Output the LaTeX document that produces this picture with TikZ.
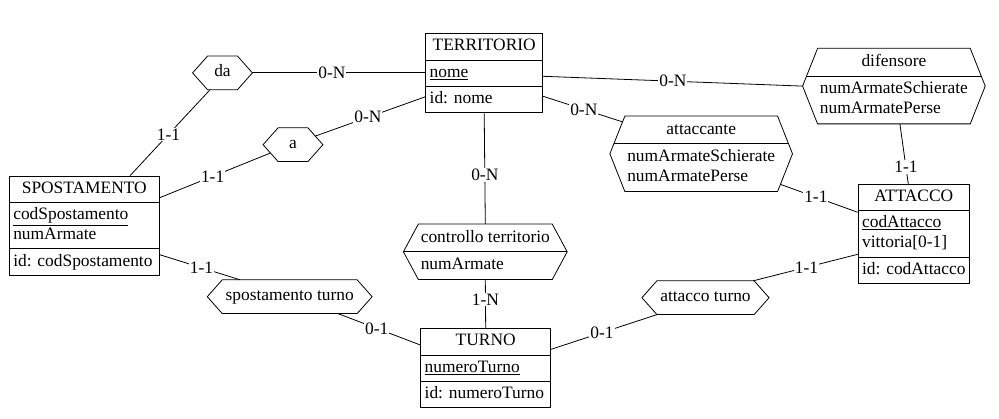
\documentclass[tikz,border=0pt]{standalone}
\usepackage{fontspec}
\setmainfont{Liberation Serif}
\usetikzlibrary{shapes.multipart}
\tikzset{
    x=1pt, y=-1pt, % One unit is one pixel of the picture, y runs downwards
    every node/.style={font=\fontsize{17.4}{20}\selectfont},
    entity/.style={ % Sets the properties for each entity
        draw,
        rectangle split, rectangle split parts=3,
        rectangle split part align={center,left,left},
        inner xsep=4pt, inner ysep=2.8pt,
        anchor=north
    },
    relation/.style={ % Relation without attributes, hexagon drawn later
        inner xsep=18pt, inner ysep=0pt,
        minimum height=33pt, minimum width=59pt
    },
    attrrelation/.style={ % Relation with attributes
        rectangle split, rectangle split parts=2,
        rectangle split part align={center,left},
        inner xsep=17pt, inner ysep=3.3pt,
        anchor=north
    },
    card/.style={ % Cardinality on the lines
        fill=white, inner sep=1pt
    }
}
\newcommand{\attrlist}[1]{\begin{tabular}{@{}l@{}}#1\end{tabular}}
\newcommand{\hexpath}[1]{(#1.west) -- ([xshift=15pt]#1.north west) -- ([xshift=-15pt]#1.north east) -- (#1.east) -- ([xshift=-15pt]#1.south east) -- ([xshift=15pt]#1.south west) -- cycle}

\begin{document}
\begin{tikzpicture}[line width=0.8pt]
    \useasboundingbox (0,0) rectangle (999,419);
    % entities
    \node[entity, minimum width=117pt] (terr) at (484.2,33.3) {TERRITORIO\strut
        \nodepart{two} \underline{nome}\strut
        \nodepart{three} id: nome\strut};
    \node[entity, minimum width=150pt] (spos) at (84.3,175.7) {SPOSTAMENTO\strut
        \nodepart{two} \attrlist{\underline{codSpostamento}\\numArmate}
        \nodepart{three} id: codSpostamento\strut};
    \node[entity, minimum width=111pt] (att) at (913.8,184) {ATTACCO\strut
        \nodepart{two} \attrlist{\underline{codAttacco}\\vittoria[0-1]}
        \nodepart{three} id: codAttacco\strut};
    \node[entity, minimum width=130pt] (turno) at (485.7,328.3) {TURNO\strut
        \nodepart{two} \underline{numeroTurno}\strut
        \nodepart{three} id: numeroTurno\strut};
    % relations
    \node[relation] (da) at (222.5,72.9) {da\strut};
    \node[relation] (a) at (293,144.7) {a\strut};
    \node[relation] (sturno) at (289.7,296.7) {spostamento turno\strut};
    \node[relation] (aturno) at (705.5,297.7) {attacco turno\strut};
    \node[attrrelation] (ctrl) at (485.3,224) {controllo territorio\strut
        \nodepart{two} numArmate\strut};
    \node[attrrelation] (attc) at (701.2,116) {attaccante\strut
        \nodepart{two} \attrlist{numArmateSchierate\\numArmatePerse}};
    \node[attrrelation] (dif) at (893.9,48.3) {difensore\strut
        \nodepart{two} \attrlist{numArmateSchierate\\numArmatePerse}};
    \foreach \r in {da,a,sturno,aturno,ctrl,attc,dif}
        \draw \hexpath{\r};
    \foreach \r in {ctrl,attc,dif}{
        \begin{scope}
            \clip \hexpath{\r};
            \draw (\r.text split west) -- (\r.text split east);
        \end{scope}
    }
    % connectors
    \draw (da.east) -- node[card, pos=.46]{0-N} (da.east -| terr.west);
    \draw ([xshift=-12.5pt]da.south) -- node[card, pos=.52]{1-1} ([xshift=45.7pt]spos.north);
    \draw ([shift={(22,-8.5)}]a.center) -- node[card, pos=.48]{0-N} ([shift={(0,23.5)}]terr.west);
    \draw ([shift={(-23,8.5)}]a.center) -- node[card, pos=.52]{1-1} ([shift={(0,-28)}]spos.east);
    \draw ([shift={(0,3)}]terr.east) -- node[card, pos=.5]{0-N} (dif.west);
    \draw ([shift={(0,23)}]terr.east) -- node[card, pos=.51]{0-N} ([shift={(13,6)}]attc.north west);
    \draw (terr.south) -- node[card, pos=.56]{0-N} (ctrl.north);
    \draw ([xshift=6pt]dif.south) -- node[card, pos=.72]{1-1} ([xshift=-5.5pt]att.north);
    \draw ([shift={(-12.3,-7.3)}]attc.south east) -- node[card, pos=.46]{1-1} ([shift={(0,-21.7)}]att.west);
    \draw (ctrl.south) -- node[card, pos=.41]{1-N} (turno.north);
    \draw ([shift={(0,29)}]spos.east) -- node[card, pos=.52]{1-1} ([xshift=-49.7pt]sturno.north);
    \draw ([xshift=48.3pt]sturno.south) -- node[card, pos=.47]{0-1} ([shift={(0,-23.3)}]turno.west);
    \draw ([shift={(0,-19)}]turno.east) -- node[card, pos=.48]{0-1} ([xshift=-48.5pt]aturno.south);
    \draw ([xshift=47.8pt]aturno.north) -- node[card, pos=.51]{1-1} ([shift={(0,20.3)}]att.west);
\end{tikzpicture}
\end{document}
